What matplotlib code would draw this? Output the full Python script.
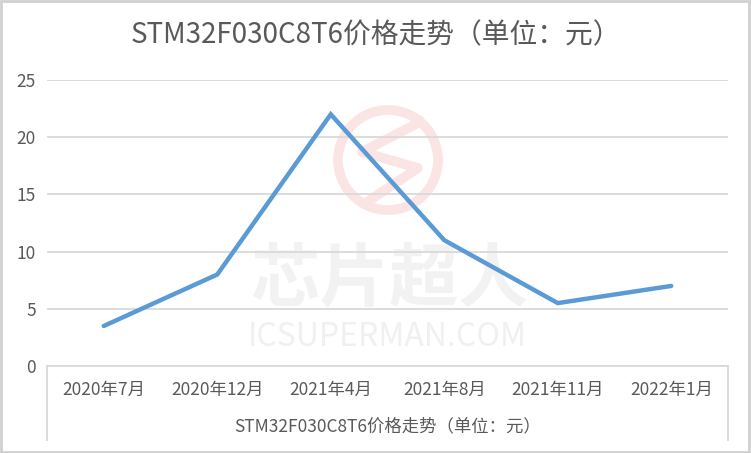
import matplotlib
matplotlib.use('Agg')
import matplotlib.pyplot as plt
import matplotlib.patches as mpatches
from matplotlib.lines import Line2D

plt.rcParams['font.family'] = ['Noto Sans CJK SC', 'DejaVu Sans']

# datos
meses = ["2020年7月", "2020年12月", "2021年4月", "2021年8月", "2021年11月", "2022年1月"]
precios = [3.5, 8, 22, 11, 5.5, 7]
yticks = [0, 5, 10, 15, 20, 25]
titulo = "STM32F030C8T6价格走势（单位：元）"

gris_txt = "#595959"
gris_lin = "#d9d9d9"
azul = "#5b9bd5"

fig = plt.figure(figsize=(7.51, 4.53), dpi=100)
fig.patch.set_facecolor("white")
ax = fig.add_axes([0.0626, 0.192, 0.9068, 0.6314])
ax.set_zorder(2)

# marca de agua (debajo del eje)
fig.text(0.518, 1 - 280 / 453, "芯片超人", ha='center', va='center', fontsize=50,
         fontweight='bold', color="#f2f2f2", zorder=-1)
fig.text(0.516, 1 - 337 / 453, "ICSUPERMAN.COM", ha='center', va='center', fontsize=23,
         color="#f0f0f0", zorder=-1)
fig.add_artist(mpatches.Ellipse((388 / 751, 1 - 160 / 453), 100 / 751, 100 / 453,
                                fill=False, edgecolor="#fbe4e4", lw=7, zorder=-1))
fig.add_artist(Line2D([420 / 751, 362 / 751, 418 / 751, 370 / 751],
                      [1 - 122 / 453, 1 - 152 / 453, 1 - 168 / 453, 1 - 200 / 453],
                      color="#fbe4e4", lw=7, zorder=-1))

x = list(range(len(meses)))
ax.plot(x, precios, color=azul, lw=3.2, solid_capstyle='round', solid_joinstyle='miter', zorder=3)

ax.set_xlim(-0.5, len(meses) - 0.5)
ax.set_ylim(0, 25)
ax.set_yticks(yticks)
ax.set_yticklabels([str(v) for v in yticks], fontsize=12.5, color=gris_txt)
ax.set_xticks(x)
ax.set_xticklabels(meses, fontsize=12.5, color=gris_txt)
ax.tick_params(axis='both', length=0)
ax.tick_params(axis='x', pad=11)
ax.tick_params(axis='y', pad=8)
ax.grid(axis='y', color=gris_lin, lw=1.3)
ax.set_axisbelow(True)
for s in ['top', 'right', 'left']:
    ax.spines[s].set_visible(False)
ax.spines['bottom'].set_color(gris_lin)
ax.spines['bottom'].set_linewidth(1.3)
ax.patch.set_alpha(0)

# caja de categorías estilo Excel
yb = 13 / 453
for xf in [47 / 751, 728 / 751]:
    fig.add_artist(Line2D([xf, xf], [0.192, yb], color=gris_lin, lw=1.3))

ax.set_xlabel(titulo, fontsize=12.5, color=gris_txt, labelpad=13)
fig.text(0.5, 1 - 35 / 453, titulo, ha='center', va='center', fontsize=20, color=gris_txt)

# borde exterior
fig.add_artist(mpatches.Rectangle((0.001, 0.002), 0.997, 0.996, transform=fig.transFigure,
                                  fill=False, edgecolor="#d0d0d0", lw=2))

fig.savefig("out.png", dpi=100, facecolor="white")
